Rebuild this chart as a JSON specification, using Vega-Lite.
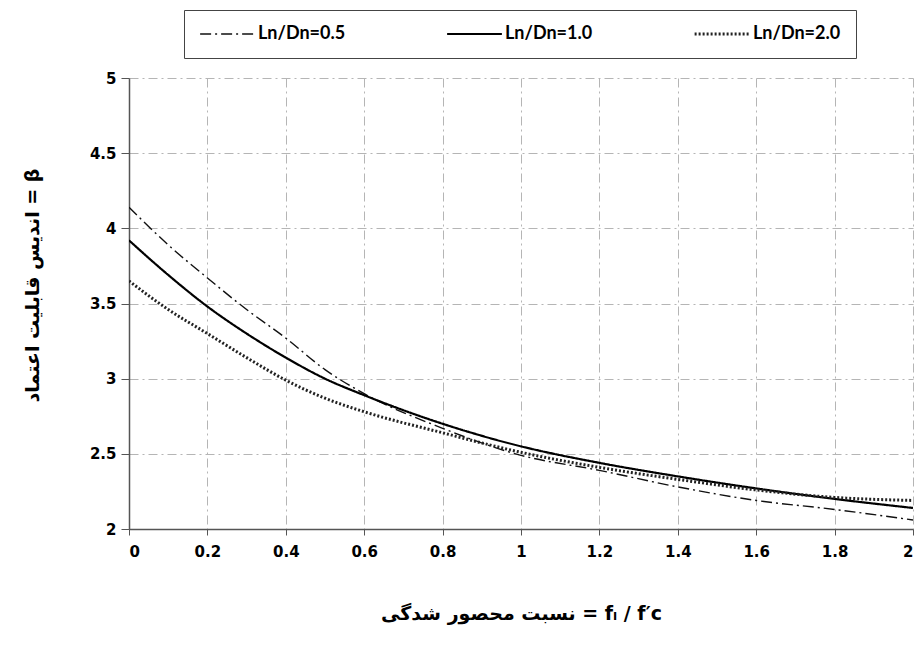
{
  "$schema": "https://vega.github.io/schema/vega-lite/v6.json",
  "width": 784,
  "height": 451,
  "autosize": {"type": "none"},
  "padding": {"left": 129, "top": 78, "right": 3, "bottom": 118},
  "background": "white",
  "data": {
    "values": [
      {"x": 0, "beta": 4.14, "series": "Ln/Dn=0.5"},
      {"x": 0.1, "beta": 3.89, "series": "Ln/Dn=0.5"},
      {"x": 0.2, "beta": 3.67, "series": "Ln/Dn=0.5"},
      {"x": 0.3, "beta": 3.46, "series": "Ln/Dn=0.5"},
      {"x": 0.4, "beta": 3.27, "series": "Ln/Dn=0.5"},
      {"x": 0.5, "beta": 3.06, "series": "Ln/Dn=0.5"},
      {"x": 0.6, "beta": 2.9, "series": "Ln/Dn=0.5"},
      {"x": 0.8, "beta": 2.67, "series": "Ln/Dn=0.5"},
      {"x": 1.0, "beta": 2.49, "series": "Ln/Dn=0.5"},
      {"x": 1.2, "beta": 2.39, "series": "Ln/Dn=0.5"},
      {"x": 1.4, "beta": 2.28, "series": "Ln/Dn=0.5"},
      {"x": 1.6, "beta": 2.19, "series": "Ln/Dn=0.5"},
      {"x": 1.8, "beta": 2.13, "series": "Ln/Dn=0.5"},
      {"x": 2.0, "beta": 2.06, "series": "Ln/Dn=0.5"},
      {"x": 0, "beta": 3.92, "series": "Ln/Dn=1.0"},
      {"x": 0.1, "beta": 3.69, "series": "Ln/Dn=1.0"},
      {"x": 0.2, "beta": 3.48, "series": "Ln/Dn=1.0"},
      {"x": 0.3, "beta": 3.3, "series": "Ln/Dn=1.0"},
      {"x": 0.4, "beta": 3.14, "series": "Ln/Dn=1.0"},
      {"x": 0.5, "beta": 3.0, "series": "Ln/Dn=1.0"},
      {"x": 0.6, "beta": 2.89, "series": "Ln/Dn=1.0"},
      {"x": 0.8, "beta": 2.7, "series": "Ln/Dn=1.0"},
      {"x": 1.0, "beta": 2.55, "series": "Ln/Dn=1.0"},
      {"x": 1.2, "beta": 2.44, "series": "Ln/Dn=1.0"},
      {"x": 1.4, "beta": 2.35, "series": "Ln/Dn=1.0"},
      {"x": 1.6, "beta": 2.27, "series": "Ln/Dn=1.0"},
      {"x": 1.8, "beta": 2.2, "series": "Ln/Dn=1.0"},
      {"x": 2.0, "beta": 2.14, "series": "Ln/Dn=1.0"},
      {"x": 0, "beta": 3.65, "series": "Ln/Dn=2.0"},
      {"x": 0.1, "beta": 3.46, "series": "Ln/Dn=2.0"},
      {"x": 0.2, "beta": 3.3, "series": "Ln/Dn=2.0"},
      {"x": 0.3, "beta": 3.14, "series": "Ln/Dn=2.0"},
      {"x": 0.4, "beta": 2.99, "series": "Ln/Dn=2.0"},
      {"x": 0.5, "beta": 2.87, "series": "Ln/Dn=2.0"},
      {"x": 0.6, "beta": 2.78, "series": "Ln/Dn=2.0"},
      {"x": 0.8, "beta": 2.64, "series": "Ln/Dn=2.0"},
      {"x": 1.0, "beta": 2.51, "series": "Ln/Dn=2.0"},
      {"x": 1.2, "beta": 2.41, "series": "Ln/Dn=2.0"},
      {"x": 1.4, "beta": 2.33, "series": "Ln/Dn=2.0"},
      {"x": 1.6, "beta": 2.26, "series": "Ln/Dn=2.0"},
      {"x": 1.8, "beta": 2.21, "series": "Ln/Dn=2.0"},
      {"x": 2.0, "beta": 2.19, "series": "Ln/Dn=2.0"}
    ]
  },
  "mark": {"type": "line", "interpolate": "monotone", "clip": true},
  "encoding": {
    "x": {
      "field": "x",
      "type": "quantitative",
      "scale": {"domain": [0, 2], "nice": false, "zero": false},
      "axis": {
        "values": [0, 0.2, 0.4, 0.6, 0.8, 1, 1.2, 1.4, 1.6, 1.8, 2],
        "format": "~g",
        "labelPadding": 9,
        "tickSize": 6,
        "title": "نسبت محصور شدگی = fₗ / f′c",
        "titleX": 392,
        "titleY": 84,
        "titleBaseline": "middle",
        "titleFontSize": 19
      }
    },
    "y": {
      "field": "beta",
      "type": "quantitative",
      "scale": {"domain": [2, 5], "nice": false, "zero": false},
      "axis": {
        "values": [2, 2.5, 3, 3.5, 4, 4.5, 5],
        "format": "~g",
        "tickSize": 8,
        "labelPadding": 5,
        "title": "اندیس قابلیت اعتماد = β",
        "titleX": -97,
        "titleY": 207,
        "titleAlign": "center",
        "titleBaseline": "middle",
        "titleAngle": -90,
        "titleFontSize": 19
      }
    },
    "color": {
      "field": "series",
      "type": "nominal",
      "scale": {"domain": ["Ln/Dn=0.5", "Ln/Dn=1.0", "Ln/Dn=2.0"], "range": ["#111", "#000", "#222"]},
      "legend": {"title": null}
    },
    "strokeDash": {
      "field": "series",
      "type": "nominal",
      "scale": {"domain": ["Ln/Dn=0.5", "Ln/Dn=1.0", "Ln/Dn=2.0"], "range": [[11, 4, 2, 4], [1, 0], [2, 2]]},
      "legend": {"title": null}
    },
    "strokeWidth": {
      "field": "series",
      "type": "nominal",
      "scale": {"domain": ["Ln/Dn=0.5", "Ln/Dn=1.0", "Ln/Dn=2.0"], "range": [1.4, 3, 1.1]},
      "legend": {"title": null}
    }
  },
  "config": {
    "view": {"stroke": null},
    "font": "DejaVu Sans",
    "axis": {
      "grid": true,
      "gridColor": "#b5b5b5",
      "gridDash": [9, 4, 2, 4],
      "gridWidth": 1,
      "domainColor": "#555",
      "domainWidth": 1.5,
      "tickColor": "#555",
      "labelFont": "DejaVu Sans",
      "labelFontWeight": "bold",
      "labelFontSize": 15,
      "labelColor": "#000",
      "titleFont": "DejaVu Sans",
      "titleFontWeight": "bold",
      "titleColor": "#000"
    },
    "legend": {
      "orient": "none",
      "legendX": 55,
      "legendY": -68,
      "direction": "horizontal",
      "strokeColor": "#444",
      "padding": 15,
      "columnPadding": 100,
      "symbolType": "stroke",
      "symbolSize": 3000,
      "clipHeight": 18,
      "labelFont": "Lato",
      "labelFontWeight": "bold",
      "labelFontSize": 18,
      "labelColor": "#000",
      "labelOffset": 2
    }
  }
}
